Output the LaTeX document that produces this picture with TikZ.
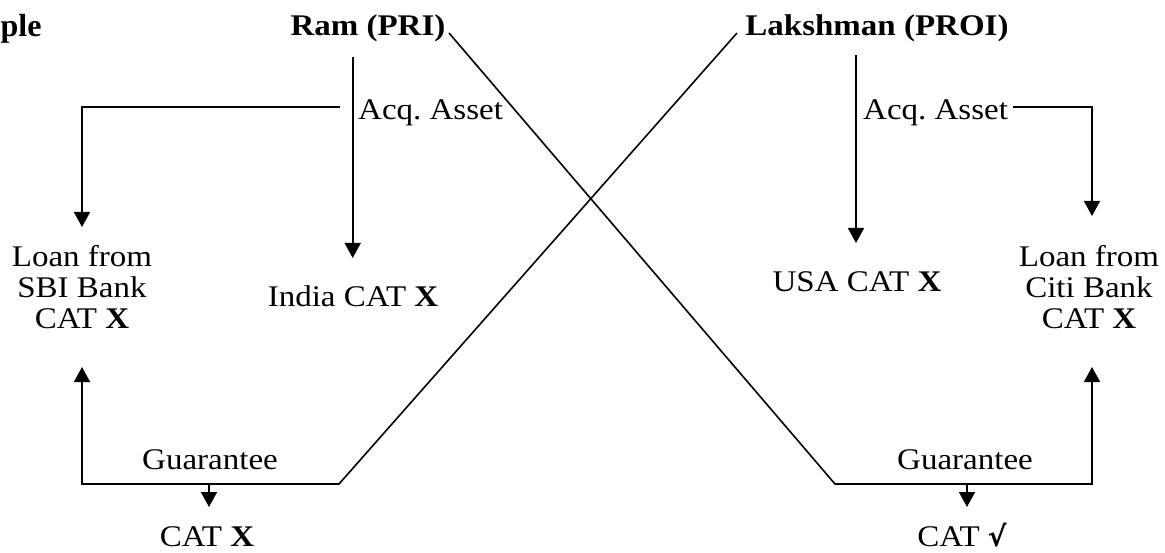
\documentclass[tikz,border=0pt]{standalone}
\usepackage{fontspec}
\setmainfont{Liberation Serif}[FakeStretch=1.1]
\newfontfamily\headfont{Liberation Serif}
\newfontfamily\symfont{DejaVu Sans}
\usetikzlibrary{arrows.meta}
\begin{document}
\begin{tikzpicture}[x=1pt,y=-1pt,
  lbl/.style={inner sep=0pt,font=\fontsize{30}{31}\selectfont},
  bold/.style={inner sep=0pt,font=\bfseries\fontsize{30}{31}\selectfont},
  multi/.style={lbl,align=center},
  conn/.style={line width=1.6pt,line join=miter},
  arr/.style={conn,-{Triangle[width=16pt,length=15pt]}}]
\useasboundingbox (0,0) rectangle (1165,553);

% heading and the two persons
\node[inner sep=0pt,font=\headfont\bfseries\fontsize{32}{33}\selectfont,anchor=base west] (ex) at (0.5,37) {ple};
\node[bold,anchor=base] (ram) at (368,36) {Ram (PRI)};
\node[bold,anchor=base] (lak) at (877,36) {Lakshman (PROI)};

% labels
\node[lbl,anchor=base west] (acqL) at (358,120) {Acq.\ Asset};
\node[lbl,anchor=base west] (acqR) at (863,120) {Acq.\ Asset};
\node[lbl,anchor=base] (india) at (353,307) {India CAT \textbf{X}};
\node[lbl,anchor=base] (usa) at (857,292) {USA CAT \textbf{X}};
\node[multi,anchor=north] (sbi) at (82,245) {Loan from\\SBI Bank\\CAT \textbf{X}};
\node[multi,anchor=north] (citi) at (1089,245) {Loan from\\Citi Bank\\CAT \textbf{X}};
\node[lbl,anchor=base] (gL) at (210,469) {Guarantee};
\node[lbl,anchor=base] (gR) at (965,469) {Guarantee};
\node[lbl,anchor=base] (catL) at (207,546) {CAT \textbf{X}};
\node[lbl,anchor=base] (catR) at (962,546) {CAT {\symfont\bfseries\fontsize{28}{31}\selectfont √}};

% junctions and arrow tips
\coordinate (ramOut) at (449,33);
\coordinate (lakOut) at (737,33);
\coordinate (ramTop) at (352.7,57);
\coordinate (ramTip) at (352.7,258);
\coordinate (lakTop) at (856,55);
\coordinate (lakTip) at (856,243);
\coordinate (ramJoin) at (340,107);
\coordinate (sbiBend) at (82,107);
\coordinate (sbiTip) at (82,227);
\coordinate (citiStart) at (1013,107);
\coordinate (citiBend) at (1092,107);
\coordinate (citiTip) at (1092,216);
\coordinate (gLleft) at (82,484);
\coordinate (gLright) at (339,484);
\coordinate (sbiUp) at (82,367);
\coordinate (gLmid) at (209,484);
\coordinate (catLtip) at (209,507);
\coordinate (gRleft) at (835,484);
\coordinate (gRright) at (1092,484);
\coordinate (citiUp) at (1092,367);
\coordinate (gRmid) at (967,484);
\coordinate (catRtip) at (967,507);

% acquisitions
\draw[arr] (ramTop) -- (ramTip);
\draw[arr] (ramJoin) -- (sbiBend) -- (sbiTip);
\draw[arr] (lakTop) -- (lakTip);
\draw[arr] (citiStart) -- (citiBend) -- (citiTip);

% guarantees
\draw[arr] (ramOut) -- (gRleft) -- (gRright) -- (citiUp);
\draw[arr] (lakOut) -- (gLright) -- (gLleft) -- (sbiUp);
\draw[arr] (gLmid) -- (catLtip);
\draw[arr] (gRmid) -- (catRtip);
\end{tikzpicture}
\end{document}
